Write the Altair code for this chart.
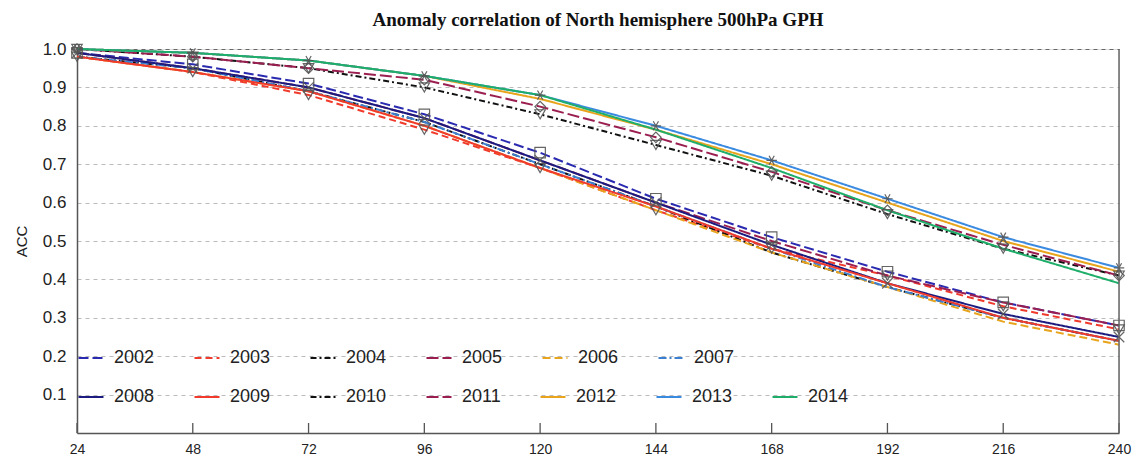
import altair as alt
import pandas as pd

hours = [24, 48, 72, 96, 120, 144, 168, 192, 216, 240]

# ACC values per year
v2002 = [0.99, 0.96, 0.91, 0.83, 0.73, 0.61, 0.51, 0.42, 0.34, 0.28]
v2003 = [0.98, 0.94, 0.88, 0.79, 0.69, 0.58, 0.48, 0.41, 0.33, 0.27]
v2004 = [0.98, 0.95, 0.89, 0.81, 0.70, 0.59, 0.47, 0.38, 0.30, 0.24]
v2005 = [0.99, 0.95, 0.90, 0.82, 0.71, 0.60, 0.50, 0.41, 0.34, 0.28]
v2006 = [0.98, 0.94, 0.89, 0.80, 0.69, 0.58, 0.47, 0.38, 0.29, 0.23]
v2007 = [0.98, 0.95, 0.89, 0.81, 0.70, 0.59, 0.48, 0.38, 0.30, 0.24]
v2008 = [0.99, 0.95, 0.90, 0.82, 0.71, 0.60, 0.49, 0.39, 0.31, 0.25]
v2009 = [0.98, 0.94, 0.89, 0.80, 0.69, 0.59, 0.48, 0.39, 0.30, 0.24]
v2010 = [1.00, 0.98, 0.95, 0.90, 0.83, 0.75, 0.67, 0.57, 0.48, 0.41]
v2011 = [1.00, 0.98, 0.95, 0.92, 0.85, 0.77, 0.68, 0.58, 0.49, 0.41]
v2012 = [1.00, 0.99, 0.97, 0.93, 0.87, 0.79, 0.70, 0.60, 0.50, 0.42]
v2013 = [1.00, 0.99, 0.97, 0.93, 0.88, 0.80, 0.71, 0.61, 0.51, 0.43]
v2014 = [1.00, 0.99, 0.97, 0.93, 0.88, 0.79, 0.69, 0.58, 0.48, 0.39]

years_a = ["2002", "2003", "2004", "2005", "2006", "2007"]
years_b = ["2008", "2009", "2010", "2011", "2012", "2013", "2014"]
series = {
    "2002": v2002, "2003": v2003, "2004": v2004, "2005": v2005,
    "2006": v2006, "2007": v2007, "2008": v2008, "2009": v2009,
    "2010": v2010, "2011": v2011, "2012": v2012, "2013": v2013,
    "2014": v2014,
}

colors_a = ["#2a2ab0", "#f03a2c", "#111111", "#9a1f50", "#e8a41c", "#3a7fd0"]
dashes_a = [[10, 4], [7, 4], [6, 3, 2, 3], [12, 4], [8, 4], [8, 3, 2, 3]]
colors_b = ["#1c1c80", "#f03a2c", "#111111", "#9a1f50", "#e8a41c", "#3a8ae0", "#1fae6a"]
dashes_b = [[1, 0], [1, 0], [6, 3, 2, 3], [12, 4], [1, 0], [1, 0], [1, 0]]

# marker shapes on selected series
marker_years = ["2002", "2003", "2008", "2010", "2011", "2013"]
marker_shapes = ["square", "triangle-down", "M-1,-1L1,1M-1,1L1,-1",
                 "triangle-down", "diamond",
                 "M-1,0L1,0M-0.5,-0.87L0.5,0.87M-0.5,0.87L0.5,-0.87"]

rows = []
for y, vals in series.items():
    for h, v in zip(hours, vals):
        rows.append({"hour": h, "acc": v, "year": y})
df = pd.DataFrame(rows)
df_a = df[df.year.isin(years_a)]
df_b = df[df.year.isin(years_b)]
df_m = df[df.year.isin(marker_years)]

W, H = 1042, 384

xs = alt.Scale(domain=[24, 240], nice=False, zero=False)
ys = alt.Scale(domain=[0, 1.0], nice=False)

x_axis = alt.Axis(
    values=hours, title=None, grid=False, ticks=False, labelPadding=9,
    labelFont="'Liberation Sans Narrow', 'Liberation Sans', sans-serif",
    labelFontSize=14, labelColor="#222",
    domainColor="#555", domainWidth=1.5, labelFlush=False)
x_enc = alt.X("hour:Q", scale=xs, axis=x_axis)
y_enc = alt.Y("acc:Q", scale=ys, axis=alt.Axis(
    values=[0.1, 0.2, 0.3, 0.4, 0.5, 0.6, 0.7, 0.8, 0.9, 1.0], format=".1f",
    title="ACC", titleFont="Liberation Sans", titleFontSize=15, titleFontWeight="normal",
    titleColor="#222", titlePadding=13,
    labelFont="Liberation Sans", labelFontSize=17, labelColor="#222", labelPadding=11,
    ticks=False, domainColor="#555", domainWidth=1.5,
    grid=True, gridDash=[4, 4], gridWidth=1.2,
    gridColor={"condition": {"test": "datum.value >= 1", "value": "#666"}, "value": "#bbbbbb"}))


def legend(y, cols):
    return alt.Legend(orient="none", legendX=0, legendY=y, direction="horizontal",
                      columns=cols, title=None, symbolType="stroke", symbolSize=625,
                      symbolStrokeWidth=2.2, labelFont="Liberation Sans", labelFontSize=18,
                      labelColor="#222", labelOffset=9, columnPadding=35, padding=0)


line_a = alt.Chart(df_a).mark_line(strokeWidth=2).encode(
    x=x_enc, y=y_enc,
    color=alt.Color("year:N", scale=alt.Scale(domain=years_a, range=colors_a), legend=legend(295, 6)),
    strokeDash=alt.StrokeDash("year:N", scale=alt.Scale(domain=years_a, range=dashes_a), legend=legend(295, 6)),
)
line_b = alt.Chart(df_b).mark_line(strokeWidth=2).encode(
    x=x_enc, y=y_enc,
    color=alt.Color("year:N", scale=alt.Scale(domain=years_b, range=colors_b), legend=legend(334, 7)),
    strokeDash=alt.StrokeDash("year:N", scale=alt.Scale(domain=years_b, range=dashes_b), legend=legend(334, 7)),
)
markers = alt.Chart(df_m).mark_point(filled=False, color="#555", size=110, strokeWidth=1.2, opacity=0.9).encode(
    x=x_enc, y=y_enc,
    shape=alt.Shape("year:N", scale=alt.Scale(domain=marker_years, range=marker_shapes), legend=None),
)
ticks = alt.Chart(pd.DataFrame({"hour": hours})).mark_rule(color="#555", strokeWidth=1.3).encode(
    x=x_enc, y=alt.value(H), y2=alt.value(H - 10))
right_border = alt.Chart(pd.DataFrame({"hour": [240]})).mark_rule(color="#666", strokeWidth=1.5).encode(
    x=x_enc, y=alt.value(0), y2=alt.value(H))

chart = alt.layer(line_a, line_b, markers, ticks, right_border).resolve_scale(
    color="independent", strokeDash="independent"
).properties(
    width=W, height=H,
    title=alt.TitleParams("Anomaly correlation of North hemisphere 500hPa GPH",
                          font="Liberation Serif", fontSize=19, fontWeight="bold",
                          color="#111", anchor="middle", offset=10),
    autosize=alt.AutoSizeParams(type="none"),
    padding={"left": 69, "top": 41, "right": 14, "bottom": 24},
).configure_view(stroke=None).configure(background="white")

chart.save("out.html", embed_options={"renderer": "svg", "actions": False})
